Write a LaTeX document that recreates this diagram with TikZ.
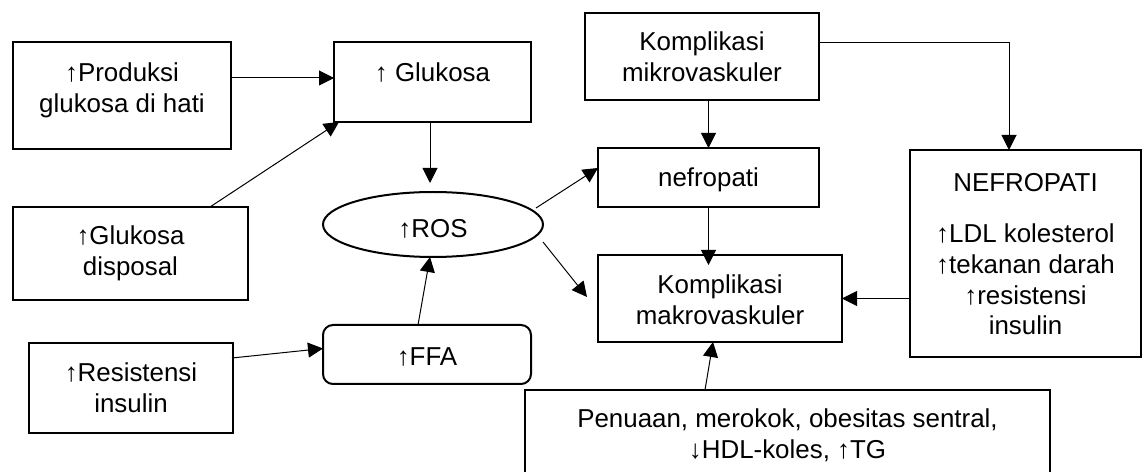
\documentclass[tikz,border=0pt]{standalone}
\usepackage{fontspec}
\setmainfont{Liberation Sans}
\usetikzlibrary{arrows.meta,shapes.geometric,calc}
\newcommand\mytxt[2]{\raisebox{#1}[\height][\depth]{\begin{tabular}{@{}c@{}}#2\end{tabular}}}
\tikzset{
  boxnode/.style={draw, line width=2bp, inner sep=0pt, outer sep=0pt, font=\fontsize{26}{31}\selectfont},
  conn/.style={line width=1bp, -{Triangle[length=15bp,width=15bp]}},
}
\begin{document}
\begin{tikzpicture}[x=1bp,y=-1bp]
\fill[white] (0,0) rectangle (1144,472);
\useasboundingbox (0,0) rectangle (1144,472);
\clip (0,0) rectangle (1144,472);
% boxes
\node[boxnode, minimum width=218bp, minimum height=107bp] (prod) at (122,95.5) {\mytxt{5bp}{↑Produksi\\glukosa di hati}};
\node[boxnode, minimum width=197bp, minimum height=80bp] (glu) at (432.5,82) {\mytxt{7bp}{↑ Glukosa}};
\node[boxnode, minimum width=235bp, minimum height=93bp] (disp) at (130.5,253.5) {\mytxt{0bp}{↑Glukosa\\disposal}};
\node[boxnode, minimum width=204bp, minimum height=90bp] (res) at (131,388) {\mytxt{-3bp}{↑Resistensi\\insulin}};
\node[boxnode, rounded corners=10bp, minimum width=208bp, minimum height=59bp] (ffa) at (427,354.5) {\mytxt{-5bp}{↑FFA}};
\node[boxnode, ellipse, minimum width=220bp, minimum height=65bp] (ros) at (433,224.5) {\mytxt{-7bp}{↑ROS}};
\node[boxnode, minimum width=234bp, minimum height=87bp] (mik) at (702,56.5) {\mytxt{-3bp}{Komplikasi\\mikrovaskuler}};
\node[boxnode, minimum width=221bp, minimum height=59bp] (nef) at (708.5,177.5) {\mytxt{-3bp}{nefropati}};
\node[boxnode, minimum width=244bp, minimum height=87bp] (mak) at (720,298.5) {\mytxt{-4bp}{Komplikasi\\makrovaskuler}};
\node[boxnode, minimum width=231bp, minimum height=207bp] (nefbig) at (1025.5,253.5) {\mytxt{-3.5bp}{NEFROPATI\\[20bp]↑LDL kolesterol\\↑tekanan darah\\↑resistensi\\insulin}};
\node[boxnode, minimum width=525bp, minimum height=100bp] (pen) at (787.5,440) {\mytxt{3bp}{Penuaan, merokok, obesitas sentral,\\↓HDL-koles, ↑TG}};
% connectors
\draw[conn] (prod.east |- 0,78) -- (glu.west |- 0,78);
\draw[conn] (disp.north -| 210,0) -- ($(glu.south west)+(5,0)$);
\draw[conn, shorten >=9bp] (glu.south -| 430,0) -- (ros.north -| 430,0);
\draw[conn] ($(ros.center)+(103,-16.5)$) -- ($(nef.west)+(0,-9.5)$);
\draw[conn] ($(ros.center)+(110,17.5)$) -- ($(mak.west)+(-11,-1.5)$);
\draw[conn] ($(ffa.north)+(-9,0)$) -- ($(ros.south)+(-3,0)$);
\draw[conn] ($(res.east)+(-1,-30)$) -- ($(ffa.west)+(0,-6)$);
\draw[conn] (nef.north |- mik.south) -- (nef.north);
\draw[conn] (mik.east |- 0,43) -| ($(nefbig.north)+(-16.5,0)$);
\draw[conn, shorten >=-10bp] (nef.south) -- (nef.south |- mak.north);
\draw[conn] (nefbig.west |- mak.east) -- (mak.east);
\draw[conn] ($(pen.north)+(-82.5,0)$) -- ($(mak.south)+(-7,0)$);
\end{tikzpicture}
\end{document}
